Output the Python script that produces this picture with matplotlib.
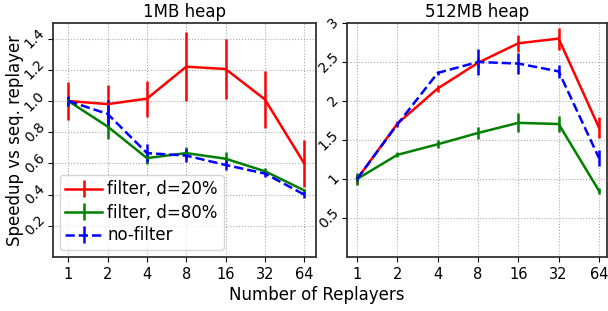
import numpy as np
import matplotlib
matplotlib.use('Agg')
import matplotlib.pyplot as plt

replayers = [1, 2, 4, 8, 16, 32, 64]
tick_labels = ['1', '2', '4', '8', '16', '32', '64']

# 1MB heap
small_d20 = [1.0, 0.98, 1.015, 1.22, 1.205, 1.01, 0.60]
small_d20_err = [0.12, 0.12, 0.115, 0.22, 0.19, 0.185, 0.15]
small_d80 = [1.0, 0.836, 0.634, 0.666, 0.63, 0.55, 0.427]
small_d80_err = [0.02, 0.08, 0.04, 0.04, 0.04, 0.02, 0.01]
small_nof = [1.0, 0.917, 0.666, 0.65, 0.59, 0.535, 0.40]
small_nof_err = [0.03, 0.09, 0.06, 0.04, 0.03, 0.02, 0.02]

# 512MB heap
big_d20 = [1.0, 1.71, 2.16, 2.49, 2.74, 2.80, 1.66]
big_d20_err = [0.06, 0.03, 0.05, 0.06, 0.11, 0.14, 0.13]
big_d80 = [1.0, 1.31, 1.445, 1.59, 1.72, 1.705, 0.85]
big_d80_err = [0.08, 0.03, 0.05, 0.08, 0.12, 0.10, 0.04]
big_nof = [1.0, 1.70, 2.36, 2.50, 2.48, 2.38, 1.27]
big_nof_err = [0.03, 0.03, 0.03, 0.17, 0.14, 0.08, 0.10]

fig = plt.figure(figsize=(6.08, 3.11), dpi=100)
ax1 = fig.add_axes([53/608, 54/311, 263/608, 234/311])
ax2 = fig.add_axes([347/608, 54/311, 260/608, 234/311])

def draw(ax, d20, d20e, d80, d80e, nof, nofe):
    ax.errorbar(replayers, d20, yerr=d20e, color='r', lw=1.8, elinewidth=1.8,
                label='filter, d=20%')
    ax.errorbar(replayers, d80, yerr=d80e, color='g', lw=1.8, elinewidth=1.8,
                label='filter, d=80%')
    ax.errorbar(replayers, nof, yerr=nofe, color='b', lw=1.8, elinewidth=1.8,
                ls='--', label='no-filter')
    ax.set_xscale('log', base=2)
    ax.set_xticks(replayers)
    ax.set_xticklabels(tick_labels)
    ax.minorticks_off()
    ax.grid(True, ls=':', color='#aaaaaa', lw=0.8)
    ax.tick_params(axis='x', labelsize=10.5, pad=3.5)
    ax.tick_params(axis='y', labelsize=10, pad=0.5)
    for s in ax.spines.values():
        s.set_linewidth(1.3)
        s.set_color('#333333')

draw(ax1, small_d20, small_d20_err, small_d80, small_d80_err, small_nof, small_nof_err)
ax1.set_xlim(2**-0.39, 2**6.3)
ax1.set_ylim(0, 1.5)
ax1.set_yticks([0.2, 0.4, 0.6, 0.8, 1.0, 1.2, 1.4])
ax1.set_yticklabels(['0.2', '0.4', '0.6', '0.8', '1.0', '1.2', '1.4'], rotation=45, va='center')
ax1.set_title('1MB heap', fontsize=12, pad=4)
ax1.set_ylabel('Speedup vs seq. replayer', fontsize=12)
ax1.yaxis.set_label_coords(-(53 - 24) / 263, 0.5)
ax1.legend(loc='lower left', fontsize=12, handlelength=2.2, borderpad=0.35,
           labelspacing=0.3, handletextpad=0.3, borderaxespad=0.4)

draw(ax2, big_d20, big_d20_err, big_d80, big_d80_err, big_nof, big_nof_err)
ax2.set_xlim(2**-0.25, 2**6.2)
ax2.set_ylim(0, 3)
ax2.set_yticks([0.5, 1, 1.5, 2, 2.5, 3])
ax2.set_yticklabels(['0.5', '1', '1.5', '2', '2.5', '3'], rotation=45, va='center')
ax2.set_title('512MB heap', fontsize=12, pad=4)

fig.text(317/608, 0.052, 'Number of Replayers', ha='center', va='center', fontsize=12)

fig.savefig('out.png', dpi=100)
